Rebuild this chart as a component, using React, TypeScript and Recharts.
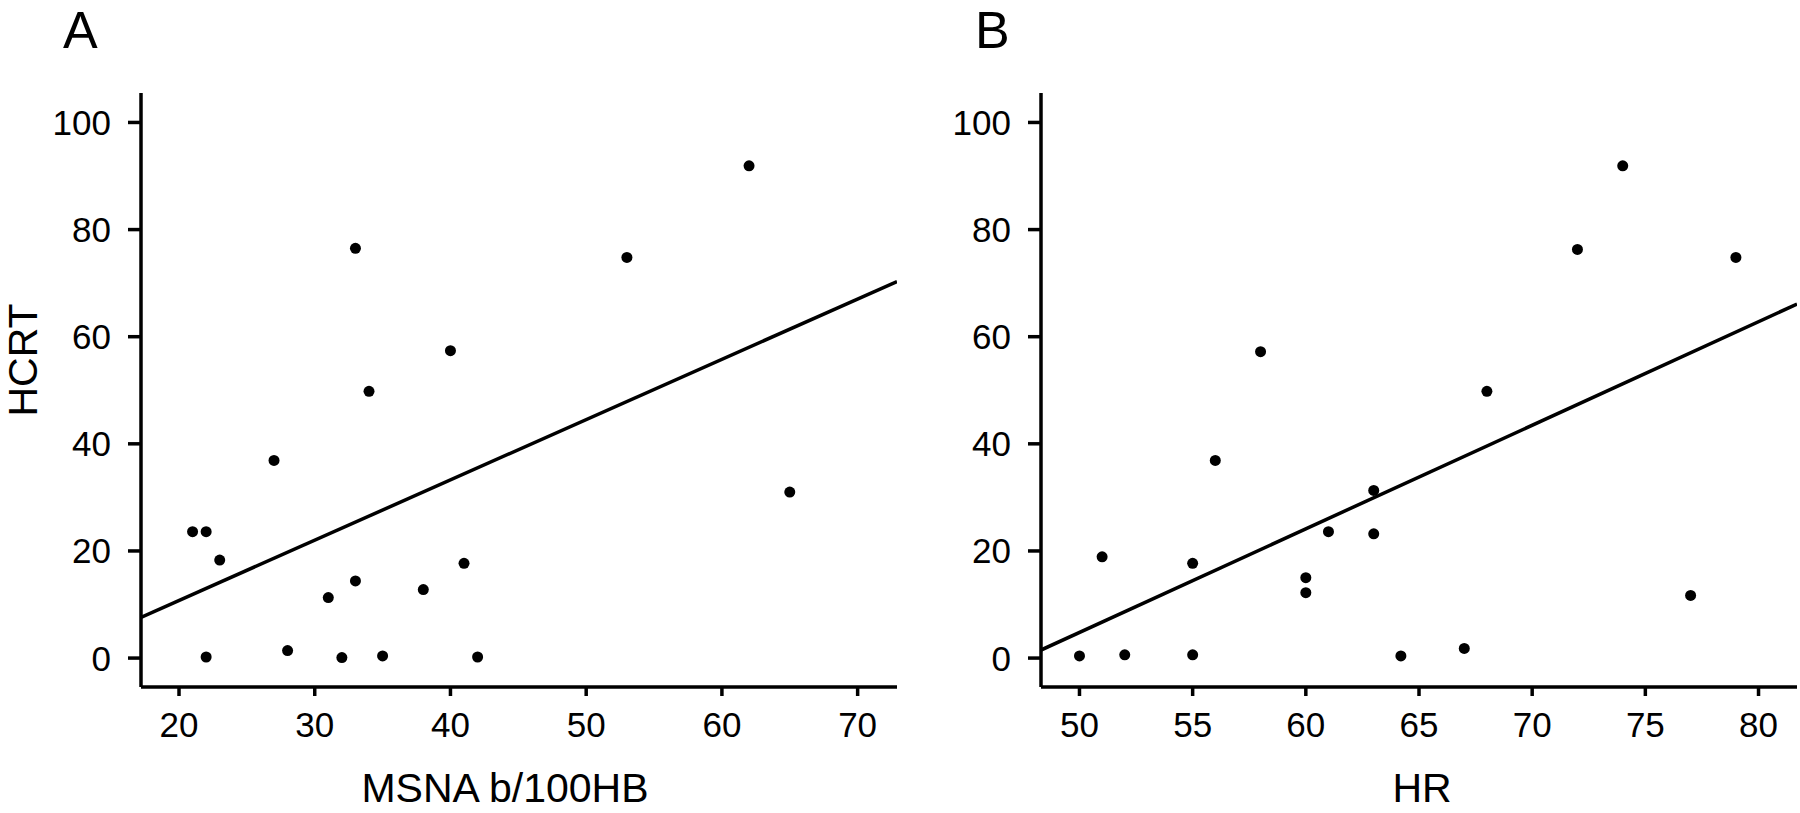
import React from 'react';
import { ScatterChart, Scatter, XAxis, YAxis } from 'recharts';

// Panel A: MSNA (b/100HB) vs HCRT
const msnaX = [62, 33, 53, 40, 34, 27, 65, 21, 22, 23, 41, 33, 38, 31, 28, 22, 32, 35, 42];
const msnaY = [91.9, 76.5, 74.8, 57.4, 49.8, 36.9, 31.0, 23.6, 23.6, 18.3, 17.7, 14.4, 12.8, 11.3, 1.4, 0.2, 0.1, 0.4, 0.2];
const msnaFitX = [17.2, 72.9];
const msnaFitY = [7.6, 70.3];
const msnaTicks = [20, 30, 40, 50, 60, 70];

// Panel B: HR vs HCRT
const hrX = [74, 72, 79, 58, 68, 56, 63, 61, 63, 51, 55, 60, 60, 77, 50, 52, 55, 64.2, 67];
const hrY = [91.9, 76.3, 74.8, 57.2, 49.8, 36.9, 31.3, 23.6, 23.2, 18.9, 17.7, 15.0, 12.2, 11.7, 0.4, 0.6, 0.6, 0.4, 1.8];
const hrFitX = [48.3, 81.7];
const hrFitY = [1.5, 66.1];
const hrTicks = [50, 55, 60, 65, 70, 75, 80];

const hcrtTicks = [0, 20, 40, 60, 80, 100];

const FONT = '"Liberation Sans", Arial, sans-serif';

const toPoints = (xs: number[], ys: number[]) => xs.map((x, i) => ({ x, y: ys[i] }));

const Dot = (props: any) => <circle cx={props.cx} cy={props.cy} r={5.5} fill="#000" />;
const NoDot = () => <g />;

interface PanelProps {
  letter: string;
  letterX: number;
  xs: number[];
  ys: number[];
  fitX: number[];
  fitY: number[];
  xDomain: [number, number];
  xTicks: number[];
  xLabel: string;
  xLabelCenter: number;
  yLabel?: string;
}

const Panel: React.FC<PanelProps> = ({ letter, letterX, xs, ys, fitX, fitY, xDomain, xTicks, xLabel, xLabelCenter, yLabel }) => {
  const axisStyle = { stroke: '#000', strokeWidth: 3.5 };
  const tickStyle = { fill: '#000', fontSize: 35, fontFamily: FONT };

  return (
    <div style={{ position: 'relative', width: 900, height: 813 }}>
      <svg width={200} height={70} style={{ position: 'absolute', left: 0, top: 0 }}>
        <text x={letterX} y={48} fontSize={52} fontFamily={FONT} fill="#000">{letter}</text>
      </svg>
      <ScatterChart width={900} height={813} margin={{ top: 93, right: 3, bottom: 0, left: 0 }}>
        <XAxis
          type="number"
          dataKey="x"
          domain={xDomain}
          ticks={xTicks}
          interval={0}
          allowDataOverflow
          height={126}
          tickSize={9}
          tickMargin={16}
          axisLine={axisStyle}
          tickLine={axisStyle}
          tick={tickStyle}
          label={() => (
            <text x={xLabelCenter} y={802} textAnchor="middle" fontSize={41} fontFamily={FONT} fill="#000">
              {xLabel}
            </text>
          )}
        />
        <YAxis
          type="number"
          dataKey="y"
          domain={[-5.4, 105.5]}
          ticks={hcrtTicks}
          interval={0}
          allowDataOverflow
          width={141}
          tickSize={13}
          tickMargin={17}
          axisLine={axisStyle}
          tickLine={axisStyle}
          tick={tickStyle}
          label={() =>
            yLabel ? (
              <text x={37} y={360} transform="rotate(-90 37 360)" textAnchor="middle" fontSize={41} fontFamily={FONT} fill="#000">
                {yLabel}
              </text>
            ) : null
          }
        />
        <Scatter
          data={toPoints(fitX, fitY)}
          line={{ stroke: '#000', strokeWidth: 3.5 }}
          shape={NoDot}
          isAnimationActive={false}
        />
        <Scatter data={toPoints(xs, ys)} shape={Dot} isAnimationActive={false} />
      </ScatterChart>
    </div>
  );
};

export default function App() {
  return (
    <div style={{ position: 'absolute', left: 0, top: 0, width: 1800, height: 813, display: 'flex', background: '#fff' }}>
      <Panel
        letter="A"
        letterX={63}
        xs={msnaX}
        ys={msnaY}
        fitX={msnaFitX}
        fitY={msnaFitY}
        xDomain={[17.2, 72.9]}
        xTicks={msnaTicks}
        xLabel="MSNA b/100HB"
        xLabelCenter={505}
        yLabel="HCRT"
      />
      <Panel
        letter="B"
        letterX={75}
        xs={hrX}
        ys={hrY}
        fitX={hrFitX}
        fitY={hrFitY}
        xDomain={[48.3, 81.7]}
        xTicks={hrTicks}
        xLabel="HR"
        xLabelCenter={522}
      />
    </div>
  );
}
